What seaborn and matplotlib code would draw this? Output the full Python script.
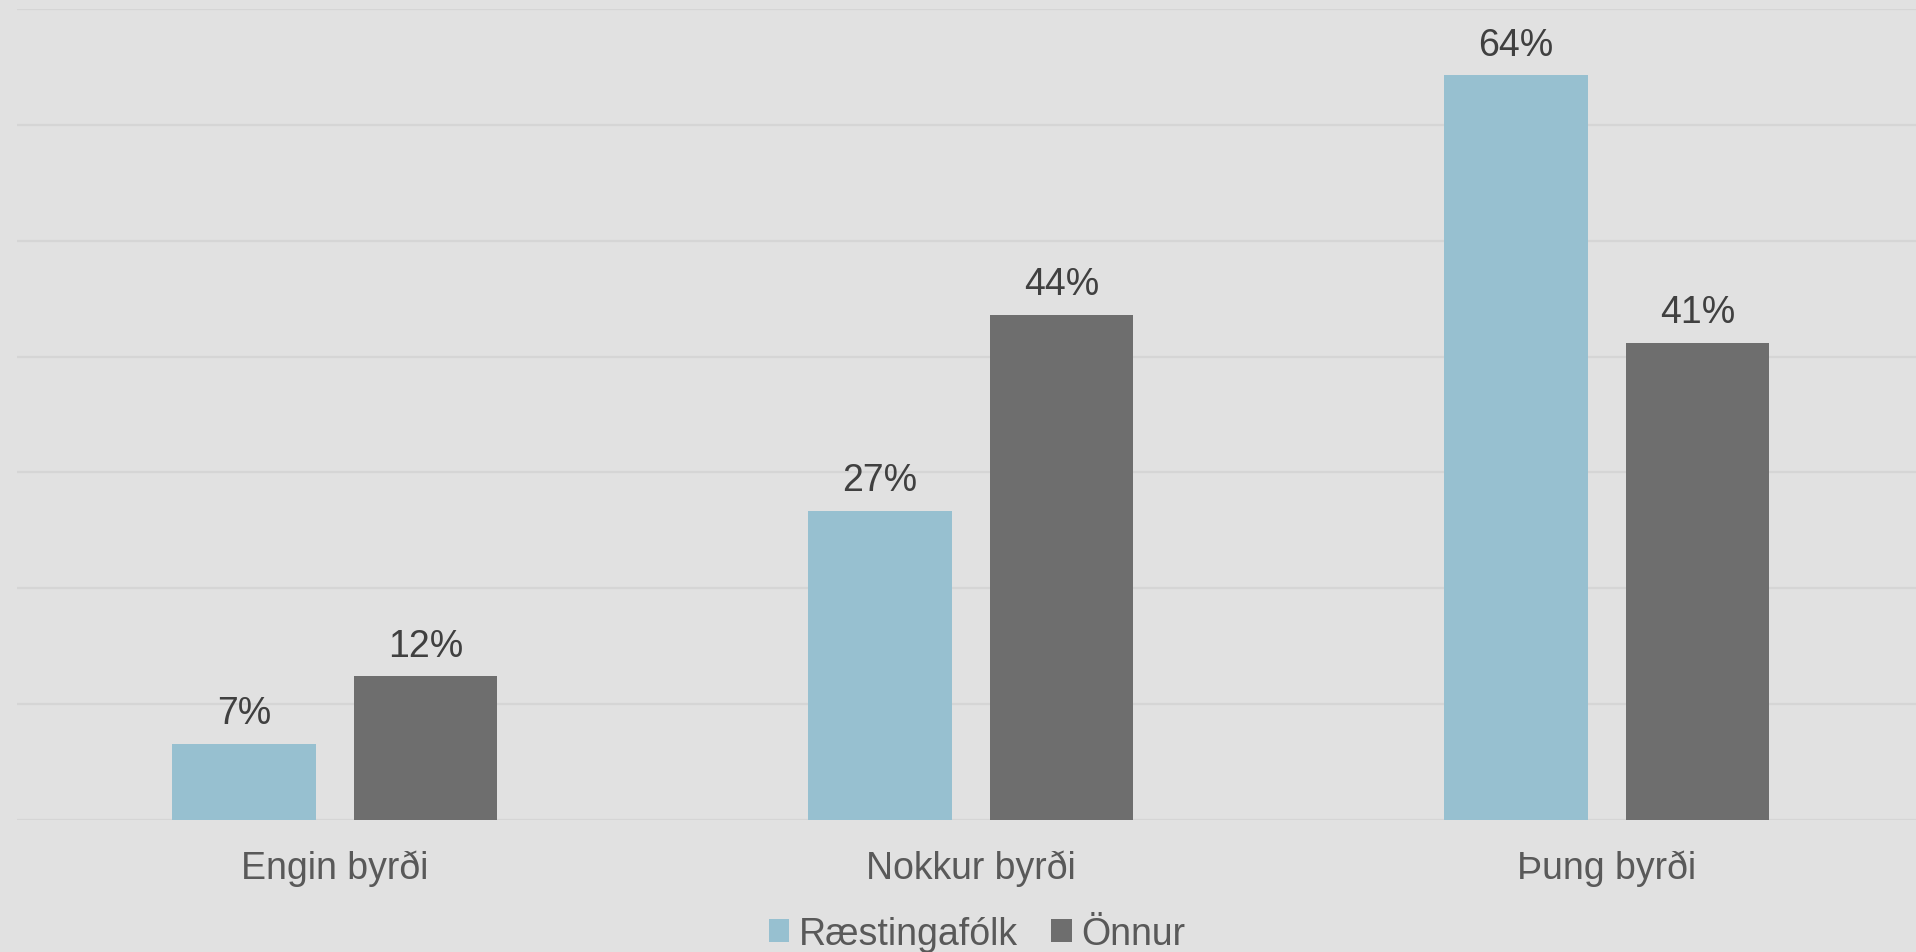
import matplotlib
matplotlib.use("Agg")
import matplotlib.pyplot as plt
import seaborn as sns
import pandas as pd

categories = ["Engin byrði", "Nokkur byrði", "Þung byrði"]
series_names = ["Ræstingafólk", "Önnur"]
raestingafolk = [6.6, 26.7, 64.3]
onnur = [12.4, 43.6, 41.2]
colors = ["#97C0D0", "#6E6E6E"]

df = pd.DataFrame({
    "cat": categories * 2,
    "grp": [series_names[0]] * 3 + [series_names[1]] * 3,
    "val": raestingafolk + onnur,
})

sns.set_theme(style="white")
plt.rcParams["font.family"] = ["Liberation Sans", "DejaVu Sans"]

bg = "#E1E1E1"
fig = plt.figure(figsize=(19.16, 9.53), dpi=100, facecolor=bg)
ax = fig.add_axes([17 / 1916, 132 / 953, 1899 / 1916, 811 / 953])
ax.set_facecolor(bg)

sns.barplot(data=df, x="cat", y="val", hue="grp", order=categories,
            hue_order=series_names, palette=colors, width=0.571, gap=0.21,
            ax=ax, legend=True, saturation=1, edgecolor="none")

ax.set_ylim(0, 70)
ax.set_xlim(-0.5, 2.486)
ax.set_yticks(range(0, 71, 10))
ax.yaxis.grid(True, color="#D5D5D5", linewidth=1.6)
ax.set_axisbelow(True)
ax.tick_params(axis="y", left=False, labelleft=False)
ax.tick_params(axis="x", bottom=False, labelsize=27, colors="#595959", pad=15)
for s in ax.spines.values():
    s.set_visible(False)
ax.set_xlabel("")
ax.set_ylabel("")

for cont in ax.containers:
    ax.bar_label(cont, labels=[f"{int(round(v))}%" for v in cont.datavalues],
                 padding=9, fontsize=27, color="#404040")

handles, labels = ax.get_legend_handles_labels()
ax.get_legend().remove()
fig.legend(handles, labels, loc="center", bbox_to_anchor=(977 / 1916, 18 / 953),
           ncol=2, frameon=False, fontsize=27, labelcolor="#595959",
           handlelength=0.55, handleheight=0.55, handletextpad=0.25, columnspacing=0.9)

fig.savefig("out.png", dpi=100, facecolor=bg)
